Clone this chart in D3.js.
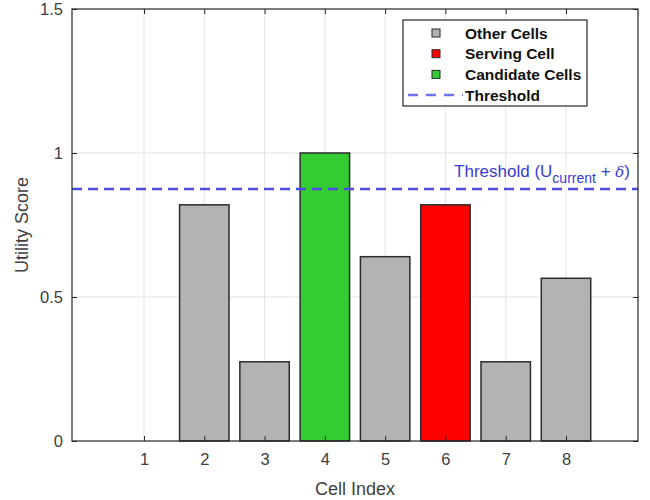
<!DOCTYPE html>
<html>
<head>
<meta charset="utf-8">
<script src="https://cdn.jsdelivr.net/npm/d3@7"></script>
<style>
  body { margin: 0; background: #fff; }
  svg { font-family: 'Liberation Sans', Arial, sans-serif; }
</style>
</head>
<body>
<div id="chart"></div>
<script>
const cells = [1, 2, 3, 4, 5, 6, 7, 8];
const scores = [0, 0.82, 0.275, 1.0, 0.64, 0.82, 0.275, 0.565];
const kinds = ['other', 'other', 'other', 'candidate', 'other', 'serving', 'other', 'other'];
const yTicks = [0, 0.5, 1, 1.5];
const threshold = 0.875;
const legendItems = [
    { label: 'Other Cells', kind: 'other' },
    { label: 'Serving Cell', kind: 'serving' },
    { label: 'Candidate Cells', kind: 'candidate' },
    { label: 'Threshold', kind: 'line' },
];

const colors = { other: '#b3b3b3', serving: '#ff0000', candidate: '#33cc33' };
const lineColor = '#4b4be6';

const width = 650;
const height = 500;
const margins = { top: 9, right: 12, bottom: 59, left: 72 };
const visWidth = width - margins.left - margins.right;
const visHeight = height - margins.top - margins.bottom;

const svg = d3.select('#chart').append('svg')
    .attr('width', width)
    .attr('height', height);

const g = svg.append('g')
    .attr('transform', `translate(${margins.left},${margins.top})`);

const x = d3.scaleLinear().domain([-0.194, 9.194]).range([0, visWidth]);
const y = d3.scaleLinear().domain([0, 1.5]).range([visHeight, 0]);
const step = x(2) - x(1);
const barW = step * 0.82;

// grid
g.append('g').selectAll('line').data(cells).enter().append('line')
    .attr('x1', d => x(d)).attr('x2', d => x(d))
    .attr('y1', 0).attr('y2', visHeight)
    .attr('stroke', '#e3e3e3').attr('stroke-width', 1);
g.append('g').selectAll('line').data(yTicks.slice(1, -1)).enter().append('line')
    .attr('x1', 0).attr('x2', visWidth)
    .attr('y1', d => y(d)).attr('y2', d => y(d))
    .attr('stroke', '#e3e3e3').attr('stroke-width', 1);

// bars
g.append('g').selectAll('rect').data(cells).enter().append('rect')
    .attr('x', d => x(d) - barW / 2)
    .attr('y', (d, i) => y(scores[i]))
    .attr('width', barW)
    .attr('height', (d, i) => visHeight - y(scores[i]))
    .attr('fill', (d, i) => colors[kinds[i]])
    .attr('stroke', (d, i) => scores[i] > 0 ? '#2b2b2b' : 'none')
    .attr('stroke-width', 1.5);

// threshold
g.append('line')
    .attr('x1', 0).attr('x2', visWidth)
    .attr('y1', y(threshold)).attr('y2', y(threshold))
    .attr('stroke', lineColor)
    .attr('stroke-width', 2.5)
    .attr('stroke-dasharray', '10,6');

const thrLabel = g.append('text')
    .attr('x', visWidth - 8)
    .attr('y', y(threshold) - 12)
    .attr('text-anchor', 'end')
    .attr('fill', '#3a3ad0')
    .style('font-size', '17px');
thrLabel.append('tspan').text('Threshold (U');
thrLabel.append('tspan').text('current').attr('dy', 6).style('font-size', '14px');
thrLabel.append('tspan').text(' + ').attr('dy', -6);
thrLabel.append('tspan').text('δ').style('font-style', 'italic').style('font-family', 'DejaVu Serif, serif').style('font-size', '15px');
thrLabel.append('tspan').text(')');

// axes (box with inward ticks)
const axisColor = '#262626';
const tickColor = '#404040';
const xAxis = d3.axisBottom(x).tickValues(cells).tickSize(-5).tickPadding(12).tickFormat(d3.format('d'));
const yAxis = d3.axisLeft(y).tickValues(yTicks).tickSize(-5).tickPadding(9).tickFormat(d => d);

const gx = g.append('g').attr('transform', `translate(0,${visHeight})`).call(xAxis);
const gy = g.append('g').call(yAxis);
g.append('g').call(d3.axisTop(x).tickValues(cells).tickSize(-5).tickFormat(''));
g.append('g').attr('transform', `translate(${visWidth},0)`).call(d3.axisRight(y).tickValues(yTicks).tickSize(-5).tickFormat(''));

g.selectAll('.domain').remove();
g.selectAll('.tick line').attr('stroke', axisColor);
[gx, gy].forEach(a => a.selectAll('.tick text')
    .attr('fill', tickColor)
    .style('font-size', '16.5px')
    .style('font-family', 'Liberation Sans, Arial, sans-serif'));

g.append('rect')
    .attr('width', visWidth).attr('height', visHeight)
    .attr('fill', 'none')
    .attr('stroke', axisColor)
    .attr('stroke-width', 1.2);

// axis titles
svg.append('text').text('Cell Index')
    .attr('x', margins.left + visWidth / 2)
    .attr('y', 495)
    .attr('text-anchor', 'middle')
    .attr('fill', tickColor)
    .style('font-size', '18px');

svg.append('text').text('Utility Score')
    .attr('transform', `translate(28,${margins.top + visHeight / 2}) rotate(-90)`)
    .attr('text-anchor', 'middle')
    .attr('fill', tickColor)
    .style('font-size', '18px');

// legend
const legend = svg.append('g').attr('transform', 'translate(403,20)');
legend.append('rect')
    .attr('width', 184).attr('height', 86)
    .attr('fill', '#fff')
    .attr('stroke', axisColor)
    .attr('stroke-width', 1.2);

const rows = legend.selectAll('g.item').data(legendItems).enter().append('g')
    .attr('class', 'item')
    .attr('transform', (d, i) => `translate(0,${13 + i * 20.7})`);

rows.filter(d => d.kind !== 'line').append('rect')
    .attr('x', 29).attr('y', -4)
    .attr('width', 8).attr('height', 8)
    .attr('fill', d => colors[d.kind])
    .attr('stroke', '#2b2b2b')
    .attr('stroke-width', 1);

rows.filter(d => d.kind === 'line').append('line')
    .attr('x1', 5).attr('x2', 60)
    .attr('stroke', '#7070f0')
    .attr('stroke-width', 2.5)
    .attr('stroke-dasharray', '10,8');

rows.append('text').text(d => d.label)
    .attr('x', 62).attr('y', 5.5)
    .attr('fill', '#111')
    .style('font-weight', 'bold')
    .style('font-size', '15.5px');
</script>
</body>
</html>
